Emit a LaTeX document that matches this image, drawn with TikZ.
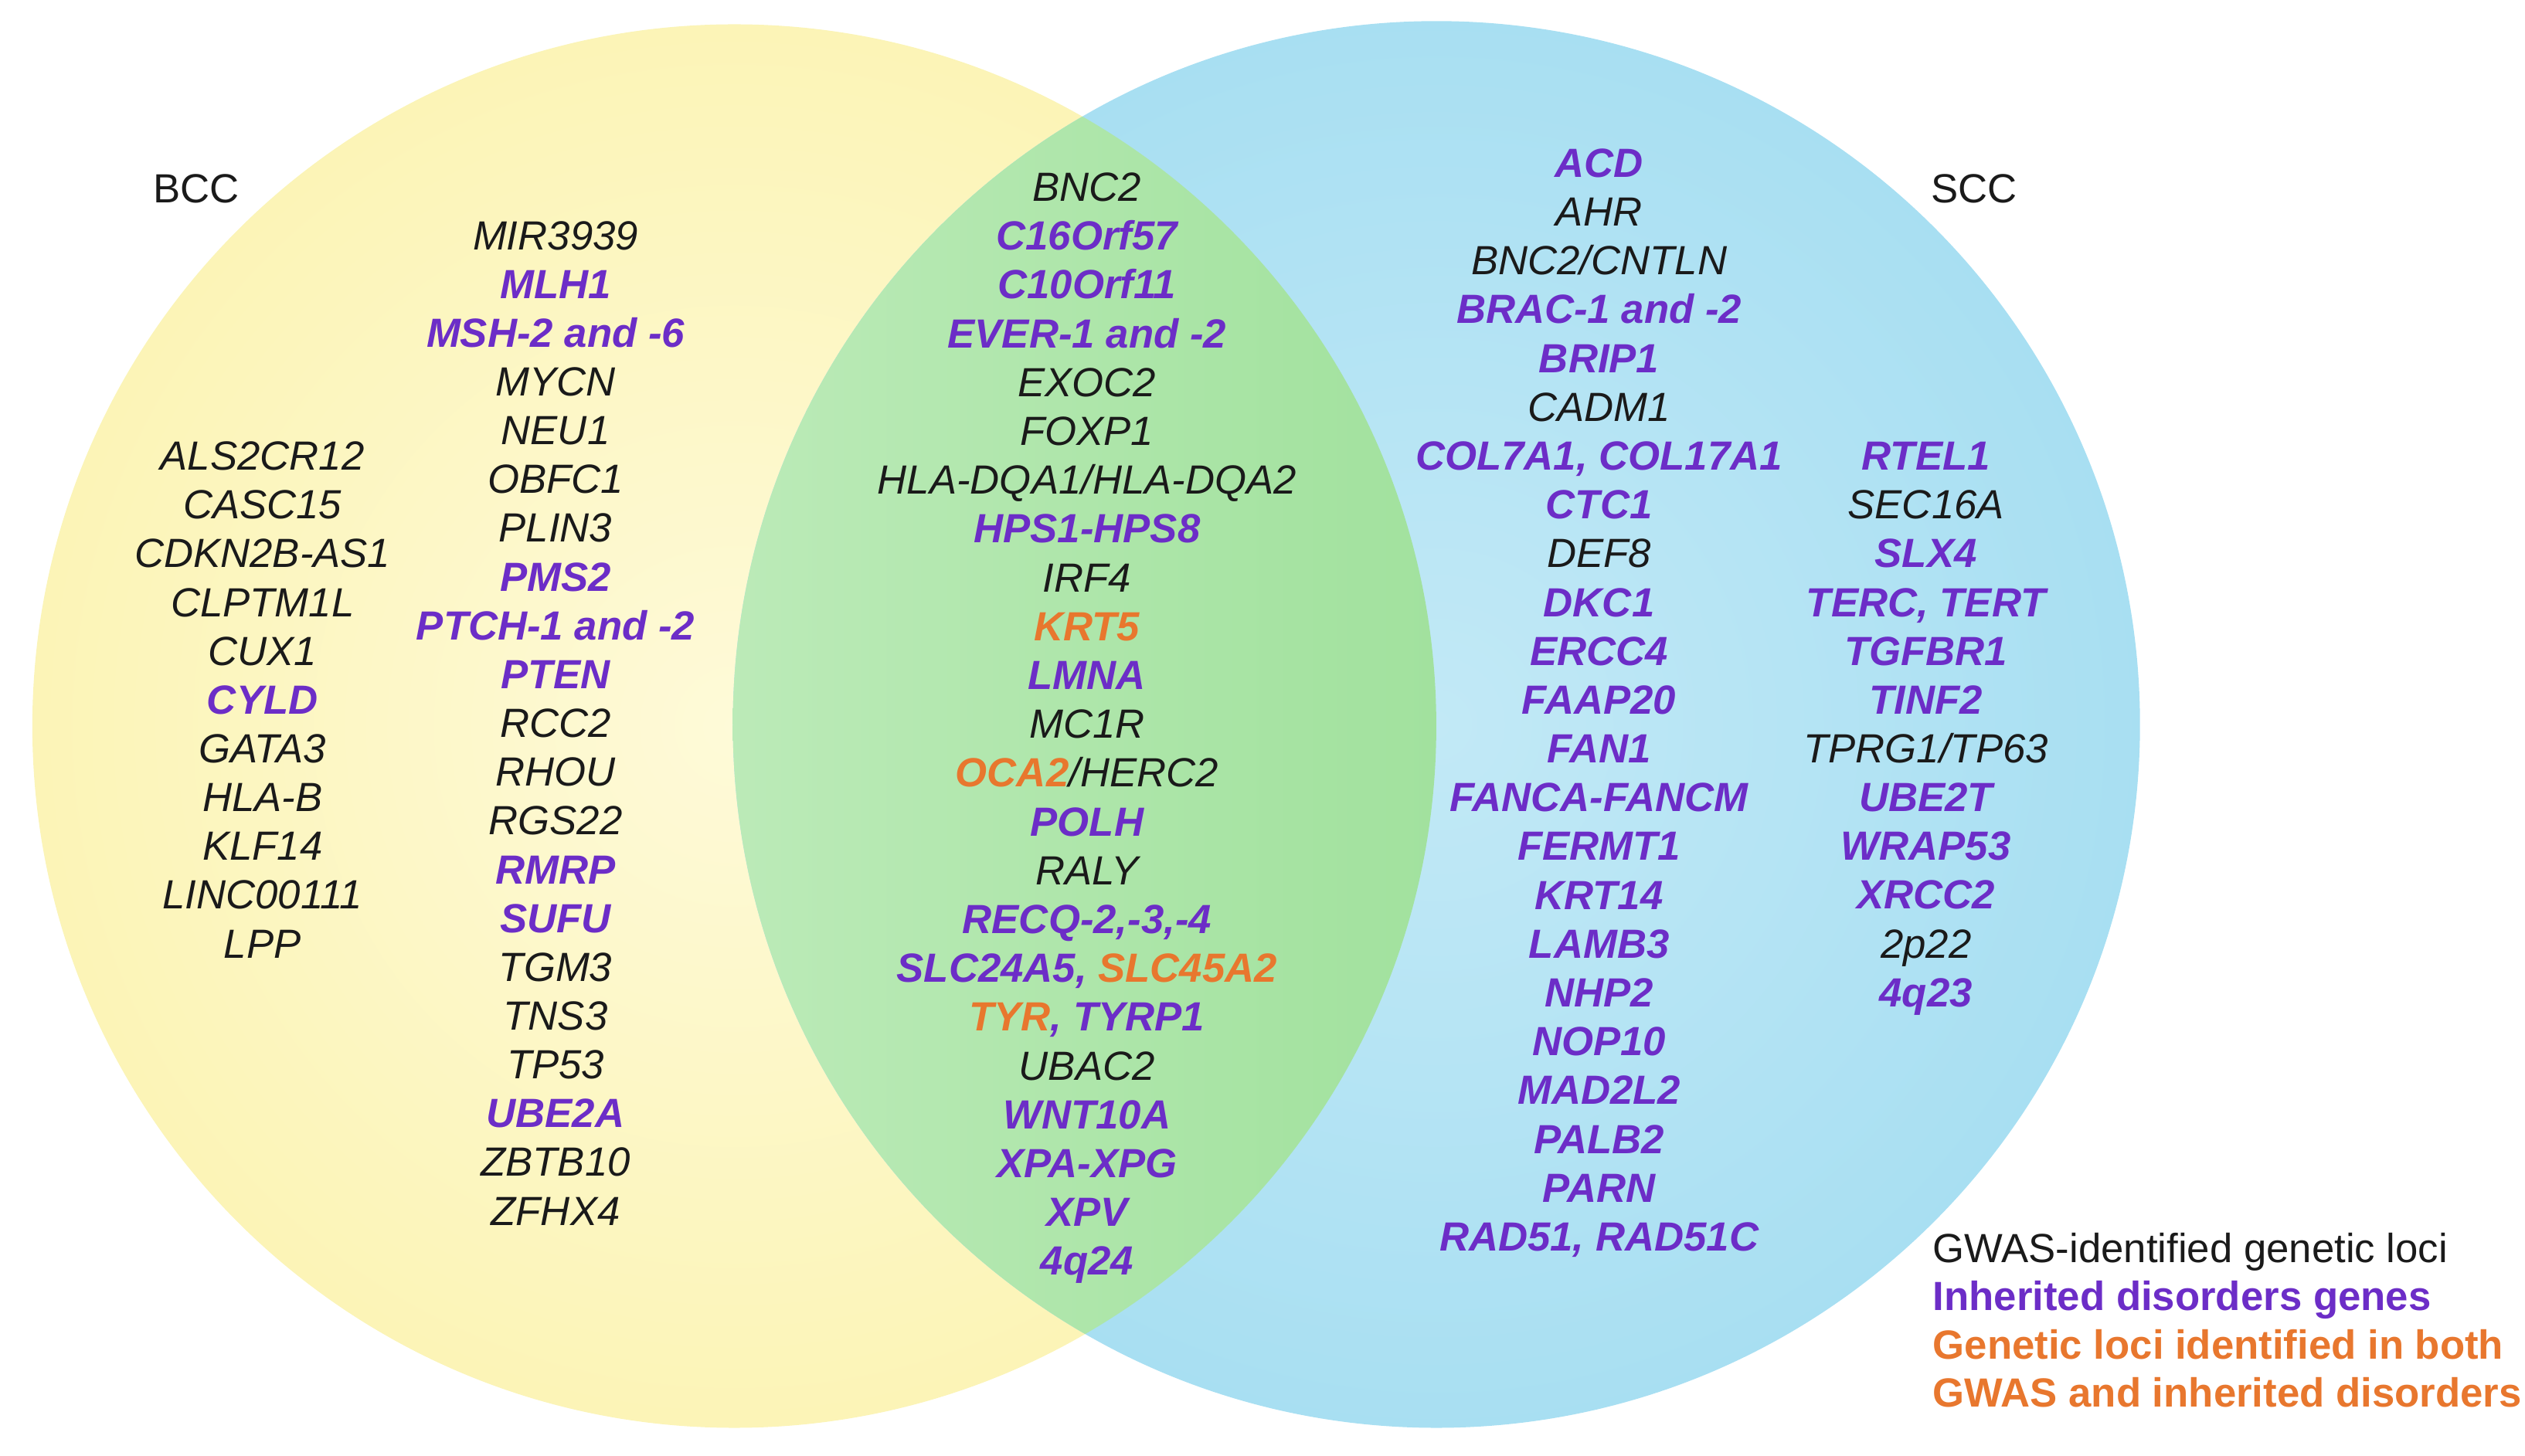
\documentclass[tikz,border=0pt]{standalone}
\usepackage{fontspec}
\setmainfont{Liberation Sans}
\definecolor{purp}{HTML}{6C2DC7}
\definecolor{orng}{HTML}{E8772E}
\definecolor{txtblack}{HTML}{1A1A1A}
\definecolor{yA}{HTML}{FEFAD8}
\definecolor{yB}{HTML}{FBF3B0}
\definecolor{yC}{HTML}{F8EBA2}
\definecolor{yD}{HTML}{E8C97C}
\definecolor{bA}{HTML}{C2E9F6}
\definecolor{bB}{HTML}{A3DDF1}
\definecolor{bC}{HTML}{8CD2ED}
\definecolor{bD}{HTML}{5FB1DC}
\definecolor{gL}{HTML}{D6F4D3}
\definecolor{gM}{HTML}{A6E3A2}
\definecolor{gR}{HTML}{78D077}
\pgfdeclareradialshading{yelshade}{\pgfpointorigin}{color(0bp)=(yA); color(30bp)=(yB); color(46bp)=(yC); color(50bp)=(yD)}
\pgfdeclareradialshading{blushade}{\pgfpointorigin}{color(0bp)=(bA); color(30bp)=(bB); color(46bp)=(bC); color(50bp)=(bD)}
\pgfdeclarehorizontalshading{grnshade}{100bp}{color(0bp)=(gL); color(45bp)=(gM); color(100bp)=(gR)}
\newcommand\gwasTxt[1]{{\itshape\color{txtblack}#1}}
\newcommand\inhTxt[1]{{\bfseries\itshape\color{purp}#1}}
\newcommand\bothTxt[1]{{\bfseries\itshape\color{orng}#1}}
\tikzset{
  gene/.style={inner sep=0pt, anchor=base, font=\fontsize{14.4}{17}\selectfont},
  lbl/.style={inner sep=0pt, anchor=base, font=\fontsize{14.4}{17}\selectfont, text=txtblack},
  legend/.style={inner sep=0pt, anchor=base west, font=\fontsize{14.4}{17}\selectfont},
}
\begin{document}
\begin{tikzpicture}[x=0.02cm, y=-0.02cm]
\useasboundingbox (0,0) rectangle (1568,904);
% circles
\path[shading=yelshade] (456,451) circle[radius=8.72cm];
\path[shading=blushade] (892,450) circle[radius=8.74cm];
\begin{scope}
  \clip (456,451) circle[radius=8.72cm];
  \path[shading=grnshade] (892,450) circle[radius=8.74cm];
\end{scope}
% set labels
\node[lbl] (bcc) at (122,126) {BCC};
\node[lbl] (scc) at (1226,126) {SCC};
% BCC column 1
\foreach \t [count=\i from 0] in {\gwasTxt{ALS2CR12},\gwasTxt{CASC15},\gwasTxt{CDKN2B-AS1},\gwasTxt{CLPTM1L},\gwasTxt{CUX1},\inhTxt{CYLD},\gwasTxt{GATA3},\gwasTxt{HLA-B},\gwasTxt{KLF14},\gwasTxt{LINC00111},\gwasTxt{LPP}}
  \node[gene] (ba\i) at (163,{292+30.3*\i}) {\t};
% BCC column 2
\foreach \t [count=\i from 0] in {\gwasTxt{MIR3939},\inhTxt{MLH1},\inhTxt{MSH-2 and -6},\gwasTxt{MYCN},\gwasTxt{NEU1},\gwasTxt{OBFC1},\gwasTxt{PLIN3},\inhTxt{PMS2},\inhTxt{PTCH-1 and -2},\inhTxt{PTEN},\gwasTxt{RCC2},\gwasTxt{RHOU},\gwasTxt{RGS22},\inhTxt{RMRP},\inhTxt{SUFU},\gwasTxt{TGM3},\gwasTxt{TNS3},\gwasTxt{TP53},\inhTxt{UBE2A},\gwasTxt{ZBTB10},\gwasTxt{ZFHX4}}
  \node[gene] (bb\i) at (345,{155+30.3*\i}) {\t};
% shared column
\foreach \t [count=\i from 0] in {\gwasTxt{BNC2},\inhTxt{C16Orf57},\inhTxt{C10Orf11},\inhTxt{EVER-1 and -2},\gwasTxt{EXOC2},\gwasTxt{FOXP1},\gwasTxt{HLA-DQA1/HLA-DQA2},\inhTxt{HPS1-HPS8},\gwasTxt{IRF4},\bothTxt{KRT5},\inhTxt{LMNA},\gwasTxt{MC1R},{\bothTxt{OCA2}\gwasTxt{/HERC2}},\inhTxt{POLH},\gwasTxt{RALY},\inhTxt{RECQ-2,-3,-4},{\inhTxt{SLC24A5,} \bothTxt{SLC45A2}},{\bothTxt{TYR}\inhTxt{, TYRP1}},\gwasTxt{UBAC2},\inhTxt{WNT10A},\inhTxt{XPA-XPG},\inhTxt{XPV},\inhTxt{4q24}}
  \node[gene] (mm\i) at (675,{125+30.32*\i}) {\t};
% SCC column 1
\foreach \t [count=\i from 0] in {\inhTxt{ACD},\gwasTxt{AHR},\gwasTxt{BNC2/CNTLN},\inhTxt{BRAC-1 and -2},\inhTxt{BRIP1},\gwasTxt{CADM1},\inhTxt{COL7A1, COL17A1},\inhTxt{CTC1},\gwasTxt{DEF8},\inhTxt{DKC1},\inhTxt{ERCC4},\inhTxt{FAAP20},\inhTxt{FAN1},\inhTxt{FANCA-FANCM},\inhTxt{FERMT1},\inhTxt{KRT14},\inhTxt{LAMB3},\inhTxt{NHP2},\inhTxt{NOP10},\inhTxt{MAD2L2},\inhTxt{PALB2},\inhTxt{PARN},\inhTxt{RAD51, RAD51C}}
  \node[gene] (sa\i) at (993,{110+30.32*\i}) {\t};
% SCC column 2
\foreach \t [count=\i from 0] in {\inhTxt{RTEL1},\gwasTxt{SEC16A},\inhTxt{SLX4},\inhTxt{TERC, TERT},\inhTxt{TGFBR1},\inhTxt{TINF2},\gwasTxt{TPRG1/TP63},\inhTxt{UBE2T},\inhTxt{WRAP53},\inhTxt{XRCC2},\gwasTxt{2p22},\inhTxt{4q23}}
  \node[gene] (sb\i) at (1196,{292+30.3*\i}) {\t};
% legend
\node[legend, text=txtblack] (lg1) at (1200,784) {GWAS-identified genetic loci};
\node[legend, text=purp, font=\fontsize{14.4}{17}\selectfont\bfseries] (lg2) at (1200,814) {Inherited disorders genes};
\node[legend, text=orng, font=\fontsize{14.4}{17}\selectfont\bfseries] (lg3) at (1200,844) {Genetic loci identified in both};
\node[legend, text=orng, font=\fontsize{14.4}{17}\selectfont\bfseries] (lg4) at (1200,874) {GWAS and inherited disorders};
\end{tikzpicture}
\end{document}
